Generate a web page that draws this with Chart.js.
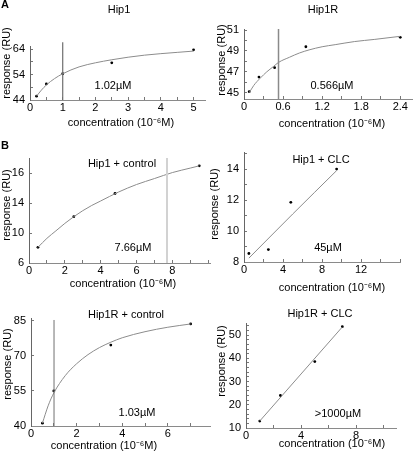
<!DOCTYPE html>
<html>
<head>
<meta charset="utf-8">
<script src="https://cdn.jsdelivr.net/npm/chart.js@4.4.0/dist/chart.umd.min.js"></script>
<style>
    html, body { margin: 0; padding: 0; background: #fff; }
    #page { position: relative; width: 416px; height: 454px; overflow: hidden; }
    .panel { position: absolute; left: 0; top: 0; width: 416px; height: 454px; }
</style>
</head>
<body>
<div id="page">
    <div class="panel"><canvas id="hip1"></canvas></div>
    <div class="panel"><canvas id="hip1r"></canvas></div>
    <div class="panel"><canvas id="hip1Ctrl"></canvas></div>
    <div class="panel"><canvas id="hip1Clc"></canvas></div>
    <div class="panel"><canvas id="hip1rCtrl"></canvas></div>
    <div class="panel"><canvas id="hip1rClc"></canvas></div>
</div>
<script>
// ============================================================================
// Binding curves (response in RU vs concentration in 10^-6 M)
// ============================================================================

// --- A: Hip1 ---
const hip1X = [0.2, 0.5, 1.0, 2.5, 5.0];
const hip1Y = [45.5, 50.3, 54.3, 58.6, 63.7];
const hip1FitX = [0.2, 0.35, 0.5, 0.75, 1, 1.5, 2, 2.5, 3, 3.5, 4, 4.5, 5];
const hip1FitY = [45.5, 47.9, 49.9, 52.4, 54.3, 57.0, 58.6, 59.8, 60.8, 61.6, 62.2, 62.7, 63.2];
const hip1Kd = 1.0;
const hip1XTicks = [0, 1, 2, 3, 4, 5];
const hip1YTicks = [44, 54, 64];

// --- A: Hip1R ---
const hip1rX = [0.08, 0.23, 0.47, 0.95, 2.4];
const hip1rY = [45.1, 46.5, 47.4, 49.4, 50.3];
const hip1rFitX = [0.08, 0.15, 0.25, 0.35, 0.45, 0.53, 0.7, 0.85, 1.0, 1.2, 1.4, 1.7, 2.0, 2.4];
const hip1rFitY = [45.0, 45.7, 46.4, 47.0, 47.5, 47.9, 48.4, 48.8, 49.1, 49.4, 49.6, 49.9, 50.1, 50.4];
const hip1rKd = 0.53;
const hip1rXTicks = [0, 0.6, 1.2, 1.8, 2.4];
const hip1rYTicks = [45, 47, 49, 51];

// --- B: Hip1 + control ---
const hip1CtrlX = [0.5, 2.5, 4.8, 9.5];
const hip1CtrlY = [8.1, 12.2, 15.3, 19.0];
const hip1CtrlFitX = [0.5, 1, 1.5, 2, 2.5, 3, 3.5, 4, 5, 6, 7, 8, 9, 9.5];
const hip1CtrlFitY = [8.1, 9.3, 10.3, 11.3, 12.2, 13.0, 13.7, 14.3, 15.5, 16.5, 17.3, 18.1, 18.7, 19.0];
const hip1CtrlKd = 7.7;
const hip1CtrlXTicks = [0, 2, 4, 6, 8];
const hip1CtrlYTicks = [6, 10, 14, 18];
const hip1CtrlYLabels = ['6', '10', '14', '16'];

// --- B: Hip1 + CLC ---
const hip1ClcX = [0.5, 2.5, 4.8, 9.5];
const hip1ClcY = [8.55, 8.8, 11.85, 14.0];
const hip1ClcFitX = [0.5, 5, 9.5];
const hip1ClcFitY = [8.25, 11.1, 13.9];
const hip1ClcXTicks = [0, 4, 8, 12];
const hip1ClcYTicks = [8, 10, 12, 14];

// --- B: Hip1R + control ---
const hip1rCtrlX = [0.5, 1.0, 3.5, 7.0];
const hip1rCtrlY = [41.2, 55.0, 74.6, 83.6];
const hip1rCtrlFitX = [0.5, 0.75, 1, 1.5, 2, 2.5, 3, 3.5, 4, 5, 6, 7];
const hip1rCtrlFitY = [41.2, 48.6, 54.1, 61.5, 66.6, 70.5, 73.5, 75.8, 77.7, 80.3, 82.2, 83.6];
const hip1rCtrlKd = 1.01;
const hip1rCtrlXTicks = [0, 2, 4, 6];
const hip1rCtrlYTicks = [40, 55, 70, 85];

// --- B: Hip1R + CLC ---
const hip1rClcX = [1.0, 2.5, 5.0, 7.0];
const hip1rClcY = [13.0, 24.0, 38.6, 53.6];
const hip1rClcFitX = [1, 7];
const hip1rClcFitY = [13.0, 53.5];
const hip1rClcXTicks = [0, 4, 8];
const hip1rClcYTicks = [10, 20, 30, 40, 50];

const FONT = "'Liberation Sans', Arial, Helvetica, sans-serif";
const Y_AXIS_W = 18;
const X_AXIS_H = 16;
const PAGE_W = 416, PAGE_H = 454;
const X_TITLE = 'concentration (10\u207B\u2076M)';
const Y_TITLE = 'response (RU)';

const zip = (xs, ys) => xs.map((x, i) => ({ x, y: ys[i] }));

// small unlabelled ticks every `step` between and after the majors
function withMinors(majors, max, step) {
    const all = majors.slice();
    for (let v = majors[0] + step; v <= max + 1e-9; v += step) {
        const r = Math.round(v * 1000) / 1000;
        if (!all.includes(r)) all.push(r);
    }
    return all.sort((a, b) => a - b);
}

function axis(p, majors, labels, min, max, allTicks, borderColor) {
    return {
        type: 'linear',
        min: min,
        max: max,
        afterFit: (s) => {
            if (s.isHorizontal()) s.height = X_AXIS_H; else s.width = Y_AXIS_W;
        },
        afterBuildTicks: (s) => {
            s.ticks = allTicks.map(v => ({ value: v }));
        },
        ticks: {
            autoSkip: false,
            maxRotation: 0,
            padding: p,
            color: '#000',
            font: { family: FONT, size: 11 },
            callback: (v) => {
                const i = majors.indexOf(v);
                return i < 0 ? '' : (labels ? labels[i] : String(v));
            }
        },
        grid: {
            drawOnChartArea: false,
            tickLength: -3,
            color: '#777'
        },
        border: { color: borderColor, width: 1 }
    };
}

function notesPlugin(items) {
    return {
        id: 'notes',
        afterDraw(chart) {
            const ctx = chart.ctx;
            ctx.save();
            ctx.fillStyle = '#000';
            ctx.textAlign = 'center';
            ctx.textBaseline = 'middle';
            items.forEach(n => {
                ctx.font = (n.bold ? 'bold ' : '') + (n.size || 11) + 'px ' + FONT;
                ctx.save();
                ctx.translate(n.x, n.y);
                if (n.rot) ctx.rotate(-Math.PI / 2);
                ctx.fillText(n.text, 0, 0);
                ctx.restore();
            });
            ctx.restore();
        }
    };
}

// p: frame {L,T,R,B} in page pixels, axis ranges, data
function makePanel(id, p) {
    const datasets = [];
    if (p.kd !== undefined) {
        datasets.push({
            data: [{ x: p.kd, y: p.yMin }, { x: p.kd, y: p.kdTop }],
            showLine: true,
            borderColor: p.kdColor,
            borderWidth: p.kdWidth,
            pointRadius: 0,
            clip: false
        });
    }
    datasets.push({
        data: zip(p.fitX, p.fitY),
        showLine: true,
        borderColor: '#8c8c8c',
        borderWidth: 1,
        pointRadius: 0,
        cubicInterpolationMode: 'monotone'
    });
    datasets.push({
        data: zip(p.x, p.y),
        pointRadius: 1.4,
        pointBackgroundColor: '#000',
        pointBorderWidth: 0
    });

    return new Chart(document.getElementById(id), {
        type: 'scatter',
        data: { datasets },
        options: {
            responsive: true,
            maintainAspectRatio: false,
            animation: false,
            events: [],
            layout: {
                padding: {
                    left: p.L - Y_AXIS_W,
                    top: p.T,
                    right: PAGE_W - p.R,
                    bottom: PAGE_H - p.B - X_AXIS_H
                }
            },
            plugins: {
                legend: { display: false },
                tooltip: { enabled: false }
            },
            scales: {
                x: axis(4.5, p.xTicks, null, 0, p.xMax, p.xAll, '#8a8a8a'),
                y: axis(8, p.yTicks, p.yLabels, p.yMin, p.yMax, p.yAll, '#666')
            }
        },
        plugins: [notesPlugin(p.notes)]
    });
}

makePanel('hip1', {
    L: 30, T: 46, R: 205, B: 100,
    xMax: 5.35, yMin: 44, yMax: 65.2,
    x: hip1X, y: hip1Y, fitX: hip1FitX, fitY: hip1FitY,
    kd: hip1Kd, kdTop: 66.7, kdColor: '#6f6f6f', kdWidth: 1.2,
    xTicks: hip1XTicks, xAll: withMinors(hip1XTicks, 5.35, 0.5),
    yTicks: hip1YTicks, yAll: withMinors(hip1YTicks, 65.2, 5),
    notes: [
        { text: 'A', x: 5, y: 5, bold: true, size: 11 },
        { text: 'Hip1', x: 119, y: 10 },
        { text: '1.02\u00B5M', x: 113, y: 86 },
        { text: Y_TITLE, x: 7, y: 63, rot: true },
        { text: X_TITLE, x: 121, y: 123 }
    ]
});

makePanel('hip1r', {
    L: 244, T: 29, R: 415, B: 99,
    xMax: 2.58, yMin: 44.4, yMax: 51.1,
    x: hip1rX, y: hip1rY, fitX: hip1rFitX, fitY: hip1rFitY,
    kd: hip1rKd, kdTop: 51.1, kdColor: '#8a8a8a', kdWidth: 1.5,
    xTicks: hip1rXTicks, xAll: withMinors(hip1rXTicks, 2.58, 0.3),
    yTicks: hip1rYTicks, yAll: withMinors(hip1rYTicks, 51.1, 1),
    notes: [
        { text: 'Hip1R', x: 323, y: 10 },
        { text: '0.566\u00B5M', x: 332, y: 86 },
        { text: Y_TITLE, x: 221.5, y: 60, rot: true },
        { text: X_TITLE, x: 332, y: 124 }
    ]
});

makePanel('hip1Ctrl', {
    L: 29, T: 158, R: 210, B: 263,
    xMax: 10.1, yMin: 6, yMax: 20.05,
    x: hip1CtrlX, y: hip1CtrlY, fitX: hip1CtrlFitX, fitY: hip1CtrlFitY,
    kd: hip1CtrlKd, kdTop: 20.05, kdColor: '#d2d2d2', kdWidth: 2,
    xTicks: hip1CtrlXTicks, xAll: withMinors(hip1CtrlXTicks, 10.1, 1),
    yTicks: hip1CtrlYTicks, yLabels: hip1CtrlYLabels, yAll: hip1CtrlYTicks,
    notes: [
        { text: 'B', x: 5, y: 146, bold: true, size: 11 },
        { text: 'Hip1 + control', x: 122, y: 164 },
        { text: '7.66\u00B5M', x: 133, y: 248 },
        { text: Y_TITLE, x: 7, y: 205, rot: true },
        { text: X_TITLE, x: 123, y: 284 }
    ]
});

makePanel('hip1Clc', {
    L: 244, T: 152, R: 400, B: 262,
    xMax: 16, yMin: 8, yMax: 15.1,
    x: hip1ClcX, y: hip1ClcY, fitX: hip1ClcFitX, fitY: hip1ClcFitY,
    xTicks: hip1ClcXTicks, xAll: withMinors(hip1ClcXTicks, 16, 2),
    yTicks: hip1ClcYTicks, yAll: withMinors(hip1ClcYTicks, 15.1, 1),
    notes: [
        { text: 'Hip1 + CLC', x: 321, y: 160 },
        { text: '45\u00B5M', x: 328, y: 248 },
        { text: Y_TITLE, x: 215, y: 204, rot: true },
        { text: X_TITLE, x: 332, y: 288 }
    ]
});

makePanel('hip1rCtrl', {
    L: 31, T: 318, R: 210, B: 426,
    xMax: 7.85, yMin: 40, yMax: 86.15,
    x: hip1rCtrlX, y: hip1rCtrlY, fitX: hip1rCtrlFitX, fitY: hip1rCtrlFitY,
    kd: hip1rCtrlKd, kdTop: 85.3, kdColor: '#707070', kdWidth: 1,
    xTicks: hip1rCtrlXTicks, xAll: withMinors(hip1rCtrlXTicks, 7.85, 1),
    yTicks: hip1rCtrlYTicks, yAll: hip1rCtrlYTicks,
    notes: [
        { text: 'Hip1R + control', x: 126, y: 315 },
        { text: '1.03\u00B5M', x: 137, y: 413 },
        { text: Y_TITLE, x: 8, y: 364, rot: true },
        { text: X_TITLE, x: 104, y: 446 }
    ]
});

makePanel('hip1rClc', {
    L: 246, T: 323, R: 396, B: 428,
    xMax: 10.9, yMin: 10, yMax: 55.2,
    x: hip1rClcX, y: hip1rClcY, fitX: hip1rClcFitX, fitY: hip1rClcFitY,
    xTicks: hip1rClcXTicks, xAll: withMinors(hip1rClcXTicks, 10.9, 2),
    yTicks: hip1rClcYTicks, yAll: withMinors(hip1rClcYTicks, 55.2, 2),
    notes: [
        { text: 'Hip1R + CLC', x: 320, y: 314 },
        { text: '>1000\u00B5M', x: 338, y: 414 },
        { text: Y_TITLE, x: 222, y: 361, rot: true },
        { text: X_TITLE, x: 332, y: 444 }
    ]
});
</script>
</body>
</html>
